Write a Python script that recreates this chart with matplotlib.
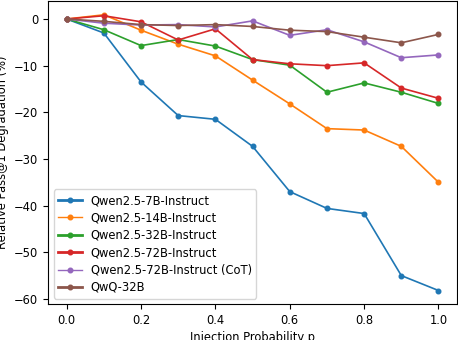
import matplotlib
matplotlib.use("Agg")
from matplotlib import pyplot as plt

# Injection probabilities
probs = [0.0, 0.1, 0.2, 0.3, 0.4, 0.5, 0.6, 0.7, 0.8, 0.9, 1.0]

# Relative pass@1 degradation (%) per model
qwen_7b = [0, -3.0, -13.5, -20.7, -21.5, -27.3, -37.0, -40.6, -41.7, -55.0, -58.2]
qwen_14b = [0, 0.9, -2.4, -5.4, -7.9, -13.1, -18.2, -23.5, -23.8, -27.3, -35.0]
qwen_32b = [0, -2.3, -5.7, -4.4, -5.8, -8.7, -9.9, -15.7, -13.7, -15.7, -18.1]
qwen_72b = [0, 0.7, -0.6, -4.5, -2.1, -8.7, -9.6, -10.0, -9.4, -14.8, -17.0]
qwen_72b_cot = [0, -0.9, -1.3, -1.2, -1.7, -0.4, -3.5, -2.3, -4.9, -8.3, -7.7]
qwq_32b = [0, -0.5, -1.2, -1.4, -1.2, -1.6, -2.4, -2.7, -3.9, -5.1, -3.3]

series = [
    ("Qwen2.5-7B-Instruct", qwen_7b, 2.0),
    ("Qwen2.5-14B-Instruct", qwen_14b, 1.0),
    ("Qwen2.5-32B-Instruct", qwen_32b, 2.0),
    ("Qwen2.5-72B-Instruct", qwen_72b, 2.0),
    ("Qwen2.5-72B-Instruct (CoT)", qwen_72b_cot, 1.0),
    ("QwQ-32B", qwq_32b, 2.0),
]

plt.rcParams["font.size"] = 8.3

fig, ax = plt.subplots(figsize=(4.58, 3.4), dpi=100)
for name, vals, lw in series:
    ax.plot(probs, vals, marker="o", markersize=3.3, linewidth=1.2, label=name)

ax.set_xlabel("Injection Probability p", labelpad=3)
ax.set_ylabel("Relative Pass@1 Degradation (%)")

leg = ax.legend(loc="lower left", labelspacing=0.38)
for line, (_, _, lw) in zip(leg.get_lines(), series):
    line.set_linewidth(lw)

fig.subplots_adjust(left=0.105, right=0.998, top=0.997, bottom=0.105)
fig.savefig("out.png", dpi=100)
